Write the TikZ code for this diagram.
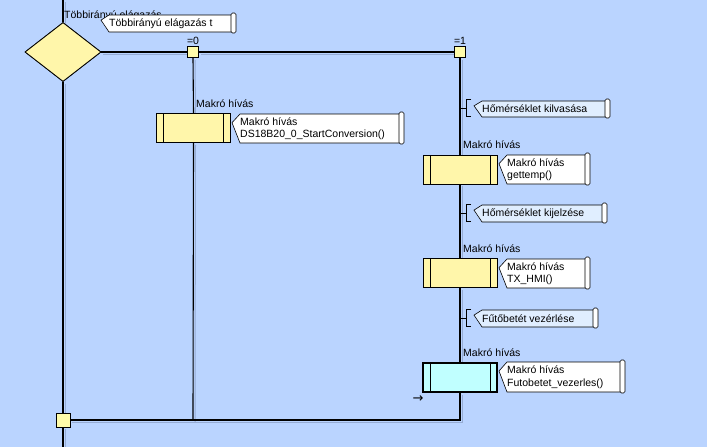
\documentclass[tikz,border=0pt]{standalone}
\usepackage{fontspec}
\setmainfont{Liberation Sans}
\newfontfamily\arrfont{DejaVu Sans}
\usetikzlibrary{shapes.geometric}
\definecolor{bg}{RGB}{186,212,255}
\definecolor{yel}{RGB}{255,246,170}
\definecolor{sqy}{RGB}{255,252,170}
\definecolor{cyanbox}{RGB}{192,255,255}
\definecolor{cmt}{RGB}{224,238,255}
\definecolor{shd}{RGB}{150,172,212}
\newcommand\mycallout[7]{% fill, x0, y0, x1, y1, name, text
  \draw[fill=#1, line width=0.6pt] ({#2+8},#3) -- ({#4-3},#3) -- ({#4-3},#5) -- ({#2+8},#5) -- (#2,{#3+(#5-#3)*0.3}) -- cycle;
  \draw[fill=white, line width=0.6pt, rounded corners=1.5pt] ({#4-4},{#3-2}) rectangle ({#4+1},{#5+1});
  \node[txt, anchor=west] (#6) at ({#2+8},{(#3+#5)/2}) {#7};
}
\newcommand\mybracket[3]{% x, y_top, y_bottom
  \draw[line width=0.6pt] ({#1+5},#2) -- (#1,#2) -- (#1,#3) -- ({#1+5},#3);
}
\begin{document}
\begin{tikzpicture}[x=1pt,y=-1pt,
  txt/.style={font=\fontsize{10.5}{12.5}\selectfont, inner sep=0pt, align=left},
  wire/.style={line width=1.1pt, preaction={draw=shd, line width=1pt, transform canvas={shift={(2pt,-2pt)}}}},
  sq/.style={draw, fill=sqy, line width=0.8pt, minimum size=11pt, inner sep=0pt},
  macro/.style={draw, fill=yel, line width=0.8pt, minimum width=74pt, minimum height=29pt, inner sep=0pt,
    path picture={\draw[line width=0.8pt] ([xshift=7pt]path picture bounding box.north west) -- ([xshift=7pt]path picture bounding box.south west);
                  \draw[line width=0.8pt] ([xshift=-7pt]path picture bounding box.north east) -- ([xshift=-7pt]path picture bounding box.south east);}},
  ]
\fill[bg] (0,0) rectangle (707,447);
\useasboundingbox (0,0) rectangle (707,447);

% nodes
\coordinate (top) at (63,0);
\coordinate (bot) at (63,447);
\node[diamond, draw, fill=yel, line width=0.8pt, minimum width=76pt, minimum height=59pt, inner sep=0pt] (dia) at (63,52) {};
\node[sq] (sq0) at (193,52) {};
\node[sq] (sq1) at (460,52) {};
\node[sq, minimum size=14pt] (bsq) at (63,420) {};
\coordinate (lend) at (193,420);
\coordinate (rend) at (460,420);

\node[macro] (m1) at (193.5,128) {};
\node[macro] (m2) at (460,169.5) {};
\node[macro] (m3) at (460,273) {};
\node[macro, fill=cyanbox, line width=2pt] (m4) at (460,377) {};

% connectors
\draw[wire] (top) -- (dia.north);
\draw[wire] (dia.south) -- (bsq.north);
\draw[wire] (bsq.south) -- (bot);
\draw[wire] (dia.east) -- (sq0.west);
\draw[wire] (sq0.east) -- (sq1.west);
\draw[wire] (sq0.south) -- (m1.north);
\draw[wire] (m1.south) -- (lend);
\draw[wire] (sq1.south) -- (m2.north);
\draw[wire] (m2.south) -- (m3.north);
\draw[wire] (m3.south) -- (m4.north);
\draw[wire] (m4.south) -- (rend) -- (bsq.east);

% redraw nodes on top
\node[diamond, draw, fill=yel, line width=0.8pt, minimum width=76pt, minimum height=59pt, inner sep=0pt] at (63,52) {};
\node[sq] at (193,52) {};
\node[sq] at (460,52) {};
\node[sq, minimum size=14pt] at (63,420) {};
\node[macro] at (193.5,128) {};
\node[macro] at (460,169.5) {};
\node[macro] at (460,273) {};
\node[macro, fill=cyanbox, line width=2pt] at (460,377) {};

% labels
\node[txt, anchor=west] (t0) at (64,15.5) {Többirányú elágazás};
\mycallout{white}{101}{15}{235}{32}{c0}{Többirányú elágazás t}
\node[txt, anchor=south] (l0) at ([yshift=1.5pt]sq0.north) {=0};
\node[txt, anchor=south] (l1) at ([yshift=1.5pt]sq1.north) {=1};

\node[txt, anchor=west] (lm1) at (196,104) {Makró hívás};
\mycallout{white}{232}{114}{403}{143}{c1}{Makró hívás\\DS18B20\_0\_StartConversion()}

\draw[line width=0.8pt] (460,108) -- (466,108);
\mybracket{466}{99}{116}
\mycallout{cmt}{474}{101}{609}{117}{k1}{Hőmérséklet kilvasása}

\node[txt, anchor=west] (lm2) at (463,145) {Makró hívás};
\mycallout{white}{499}{155}{589}{184}{c2}{Makró hívás\\gettemp()}

\draw[line width=0.8pt] (460,213) -- (466,213);
\mybracket{466}{204}{221}
\mycallout{cmt}{474}{205}{606}{222}{k2}{Hőmérséklet kijelzése}

\node[txt, anchor=west] (lm3) at (463,249) {Makró hívás};
\mycallout{white}{499}{259}{589}{288}{c3}{Makró hívás\\TX\_HMI()}

\draw[line width=0.8pt] (460,318) -- (466,318);
\mybracket{466}{309}{326}
\mycallout{cmt}{474}{310}{597}{327}{k3}{Fűtőbetét vezérlése}

\node[txt, anchor=west] (lm4) at (463,353) {Makró hívás};
\mycallout{white}{499}{362}{624}{392}{c4}{Makró hívás\\Futobetet\_vezerles()}

\node[inner sep=0pt, font=\arrfont\fontsize{13}{15}\selectfont] (arr) at (418,399) {→};
\end{tikzpicture}
\end{document}
